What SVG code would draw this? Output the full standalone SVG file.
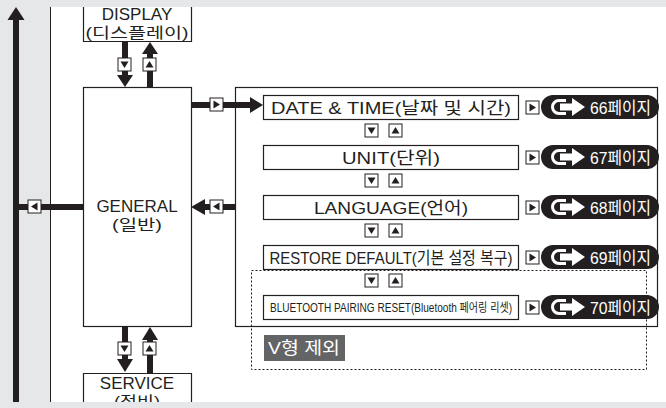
<svg xmlns="http://www.w3.org/2000/svg" width="666" height="408" viewBox="0 0 666 408">
<defs>
<style>
.bx{fill:#fff;stroke:#231f20;stroke-width:1.2}
.t{font-family:"Liberation Sans","Noto Sans CJK KR",sans-serif;font-size:17px;fill:#231f20;text-anchor:middle}
.k{font-size:15px}
.pt{font-family:"Liberation Sans","Noto Sans CJK KR",sans-serif;font-size:17px;fill:#fff}
.ln{stroke:#231f20;stroke-width:6;fill:none}
.hd{fill:#231f20}
.ic{fill:#fff;stroke:#231f20;stroke-width:1}
</style>
<g id="pillshape">
<rect x="0" y="-12" width="118" height="24" rx="12" fill="#231f20"/>
<path d="M25,-6.5 H18 A6.5,6.5 0 0 0 18,6.5 H25" fill="none" stroke="#fff" stroke-width="3"/>
<path d="M19,-3.5 H31 V-9 L44,0 L31,9 V3.5 H19 Z" fill="#fff"/>
</g>
<g id="icR"><rect class="ic" x="0" y="0" width="13" height="13"/><path d="M3.5,2.5 L10,6.5 L3.5,10.5 Z" fill="#231f20"/></g>
<g id="icL"><rect class="ic" x="0" y="0" width="13" height="13"/><path d="M9.5,2.5 L3,6.5 L9.5,10.5 Z" fill="#231f20"/></g>
<g id="icD"><rect class="ic" x="0" y="0" width="13" height="13"/><path d="M2.5,3.5 L10.5,3.5 L6.5,10 Z" fill="#231f20"/></g>
<g id="icU"><rect class="ic" x="0" y="0" width="13" height="13"/><path d="M2.5,9.5 L10.5,9.5 L6.5,3 Z" fill="#231f20"/></g>
</defs>
<rect x="0" y="0" width="666" height="408" fill="#e6e7e9"/>
<rect x="50" y="7" width="616" height="395" fill="#fff"/>
<line x1="50.5" y1="7" x2="50.5" y2="402" stroke="#231f20" stroke-width="1"/>

<g id="left-arrow">
<rect x="13" y="19" width="6" height="383" fill="#231f20"/>
<path d="M16,7 L7.5,20 L24.5,20 Z" fill="#231f20"/>
</g>

<g id="menu-frame">
<rect x="235.5" y="87.5" width="422" height="239" fill="none" stroke="#231f20" stroke-width="1.2"/>
<rect x="251.5" y="270.5" width="395" height="99" fill="none" stroke="#231f20" stroke-width="1" stroke-dasharray="2,2"/>
</g>

<g id="connectors">
<line class="ln" x1="125" y1="41" x2="125" y2="76"/>
<path class="hd" d="M117,75 L133,75 L125,87 Z"/>
<use href="#icD" x="118" y="58"/>
<line class="ln" x1="150" y1="87" x2="150" y2="53"/>
<path class="hd" d="M142,54 L158,54 L150,42 Z"/>
<use href="#icU" x="143" y="58"/>

<line class="ln" x1="125" y1="326" x2="125" y2="360"/>
<path class="hd" d="M117,359 L133,359 L125,372 Z"/>
<use href="#icD" x="118" y="342"/>
<line class="ln" x1="150" y1="373" x2="150" y2="339"/>
<path class="hd" d="M142,340 L158,340 L150,327 Z"/>
<use href="#icU" x="143" y="342"/>

<line class="ln" x1="16" y1="207" x2="83" y2="207"/>
<use href="#icL" x="28" y="200"/>

<line class="ln" x1="235" y1="207" x2="203" y2="207"/>
<path class="hd" d="M205,199 L205,215 L191,207 Z"/>
<use href="#icL" x="210" y="200"/>

<line class="ln" x1="191" y1="105" x2="252" y2="105"/>
<path class="hd" d="M250,97 L250,113 L263,105 Z"/>
<use href="#icR" x="210" y="98"/>

<use href="#icD" x="365" y="124"/><use href="#icU" x="389" y="124"/>
<use href="#icD" x="365" y="174"/><use href="#icU" x="389" y="174"/>
<use href="#icD" x="365" y="224"/><use href="#icU" x="389" y="224"/>
<use href="#icD" x="365" y="274"/><use href="#icU" x="389" y="274"/>

<use href="#icR" x="526" y="101"/>
<use href="#icR" x="526" y="151"/>
<use href="#icR" x="526" y="201"/>
<use href="#icR" x="526" y="251"/>
<use href="#icR" x="526" y="301"/>
</g>

<g id="display">
<path d="M83.5,7 V41.5 H191.5 V7" fill="#fff" stroke="#231f20" stroke-width="1.2"/>
<text class="t" x="137" y="20">DISPLAY</text>
<text class="t k" x="137" y="37.5" textLength="103" lengthAdjust="spacingAndGlyphs">(디스플레이)</text>
</g>

<g id="general">
<rect class="bx" x="83.5" y="87.5" width="108" height="239"/>
<text class="t" x="137" y="212">GENERAL</text>
<text class="t k" x="137" y="230" textLength="50" lengthAdjust="spacingAndGlyphs">(일반)</text>
</g>

<g id="service">
<path d="M83.5,402 V373.5 H191.5 V402" fill="#fff" stroke="#231f20" stroke-width="1.2"/>
<text class="t" x="137" y="389">SERVICE</text>
<text class="t k" x="137" y="407" textLength="46" lengthAdjust="spacingAndGlyphs">(정비)</text>
</g>

<g id="date-time">
<rect class="bx" x="263.5" y="95.5" width="255" height="24"/>
<text class="t" x="391" y="114" textLength="240" lengthAdjust="spacingAndGlyphs">DATE &amp; TIME(날짜 및 시간)</text>
</g>
<g id="unit">
<rect class="bx" x="263.5" y="145.5" width="255" height="24"/>
<text class="t" x="391" y="164" textLength="98" lengthAdjust="spacingAndGlyphs">UNIT(단위)</text>
</g>
<g id="language">
<rect class="bx" x="263.5" y="195.5" width="255" height="24"/>
<text class="t" x="391" y="214" textLength="154" lengthAdjust="spacingAndGlyphs">LANGUAGE(언어)</text>
</g>
<g id="restore-default">
<rect class="bx" x="263.5" y="245.5" width="255" height="24"/>
<text class="t" x="391" y="264" textLength="243" lengthAdjust="spacingAndGlyphs">RESTORE DEFAULT(기본 설정 복구)</text>
</g>
<g id="bluetooth-reset">
<rect class="bx" x="263.5" y="295.5" width="255" height="24"/>
<text class="t" x="391" y="312" style="font-size:12px" textLength="242" lengthAdjust="spacingAndGlyphs">BLUETOOTH PAIRING RESET(Bluetooth 페어링 리셋)</text>
</g>

<g id="page66"><use href="#pillshape" x="541" y="107"/><text class="pt" x="590" y="113.5" textLength="61" lengthAdjust="spacingAndGlyphs">66페이지</text></g>
<g id="page67"><use href="#pillshape" x="541" y="157"/><text class="pt" x="590" y="163.5" textLength="61" lengthAdjust="spacingAndGlyphs">67페이지</text></g>
<g id="page68"><use href="#pillshape" x="541" y="207"/><text class="pt" x="590" y="213.5" textLength="61" lengthAdjust="spacingAndGlyphs">68페이지</text></g>
<g id="page69"><use href="#pillshape" x="541" y="257"/><text class="pt" x="590" y="263.5" textLength="61" lengthAdjust="spacingAndGlyphs">69페이지</text></g>
<g id="page70"><use href="#pillshape" x="541" y="307"/><text class="pt" x="590" y="313.5" textLength="61" lengthAdjust="spacingAndGlyphs">70페이지</text></g>

<g id="v-excluded">
<rect x="264" y="335" width="81" height="26" fill="#636466"/>
<text class="pt" x="268" y="354" textLength="72" lengthAdjust="spacingAndGlyphs">V형 제외</text>
</g>

<rect x="0" y="0" width="666" height="7" fill="#e6e7e9"/>
<rect x="0" y="402" width="666" height="6" fill="#e6e7e9"/>
</svg>
